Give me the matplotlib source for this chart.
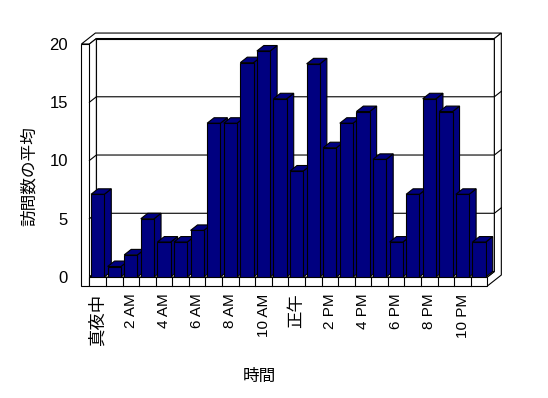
import numpy as np
import matplotlib.pyplot as plt
from matplotlib.patches import Polygon

plt.rcParams['font.family'] = ['Liberation Sans', 'Noto Sans CJK JP']

# 時間帯ごとの平均訪問数
hours = np.arange(24)
visits = [7.1, 0.9, 1.9, 5.0, 3.0, 3.0, 4.0, 13.2, 13.2, 18.4, 19.4, 15.3,
          9.1, 18.3, 11.1, 13.2, 14.2, 10.1, 3.0, 7.1, 15.3, 14.2, 7.1, 3.0]
tick_pos = np.arange(0, 24, 2)
tick_labels = ['真夜中', '2 AM', '4 AM', '6 AM', '8 AM', '10 AM',
               '正午', '2 PM', '4 PM', '6 PM', '8 PM', '10 PM']
y_ticks = [0, 5, 10, 15, 20]
grid_vals = [5, 10, 15]

NAVY = '#000080'
BAR_W = 0.8
DX, DY = 0.42, 0.47   # 奥行き (カテゴリ単位, 値単位)
LW = 0.48             # 左壁の厚さ
FT = 0.77             # 床の厚さ

fig = plt.figure(figsize=(5.48, 3.98), dpi=100)
ax = fig.add_axes([89.4 / 548, 121 / 398, 398 / 548, 233 / 398])
ax.set_xlim(-0.5, 23.5)
ax.set_ylim(0, 20)
for s in ax.spines.values():
    s.set_visible(False)
ax.patch.set_visible(False)


def poly(pts, fc='white', z=1):
    ax.add_patch(Polygon(pts, closed=True, facecolor=fc, edgecolor='black',
                         lw=0.8, zorder=z, clip_on=False))


x0, x1, yt = -0.5, 23.5, 20
# 壁と床
poly([(x0 + DX, DY), (x1 + DX, DY), (x1 + DX, yt + DY), (x0 + DX, yt + DY)])
poly([(x0 - LW, yt), (x0 - LW + 2 * DX, yt + 2 * DY), (x1 + 2 * DX, yt + 2 * DY),
      (x1 + DX, yt + DY), (x0 + DX, yt + DY), (x0, yt)])
poly([(x1, -FT), (x1 + 2 * DX, -FT + 2 * DY), (x1 + 2 * DX, yt + 2 * DY),
      (x1 + DX, yt + DY), (x1 + DX, DY), (x1, 0)])
poly([(x0, 0), (x0 + DX, DY), (x0 + DX, yt + DY), (x0, yt)])
poly([(x0 - LW, -FT), (x0, -FT), (x0, yt), (x0 - LW, yt)])
poly([(x0, -FT), (x1, -FT), (x1, 0), (x0, 0)])
poly([(x0, 0), (x1, 0), (x1 + DX, DY), (x0 + DX, DY)])

for v in grid_vals:
    ax.plot([x0, x0 + DX, x1 + DX, x1 + 2 * DX], [v, v + DY, v + DY, v + 2 * DY],
            color='black', lw=0.8, zorder=1.5, clip_on=False)
for b in np.arange(0.5, 23.5):
    ax.plot([b, b], [-FT, 0], color='black', lw=0.8, zorder=1.5, clip_on=False)

# 棒 (前面 + 側面 + 上面)
bars = ax.bar(hours, visits, width=BAR_W, color=NAVY, edgecolor='black', lw=0.8)
for i, (h, v) in enumerate(zip(hours, visits)):
    l, r = h - BAR_W / 2, h + BAR_W / 2
    z = 3 + i * 0.01
    poly([(r, 0), (r + DX, DY), (r + DX, v + DY), (r, v)], fc=NAVY, z=z)
    poly([(l, v), (r, v), (r + DX, v + DY), (l + DX, v + DY)], fc=NAVY, z=z)
    bars[i].set_zorder(z + 0.005)

ax.set_yticks(y_ticks)
ax.tick_params(axis='y', length=0, pad=15.4, labelsize=12)
ax.set_xticks(tick_pos, tick_labels, rotation=90)
ax.tick_params(axis='x', length=0, pad=12, labelsize=11)
# 日本語のラベルは少し大きめ
for t in ax.get_xticklabels():
    if not t.get_text()[0].isdigit():
        t.set_fontsize(12.5)

ax.set_ylabel('訪問数の平均', fontsize=12, va='center')
ax.yaxis.set_label_coords(-0.152, 0.433)
ax.set_xlabel('時間', fontsize=12, va='center')
ax.xaxis.set_label_coords(0.426, -0.425)

plt.savefig('out.png', dpi=100)
